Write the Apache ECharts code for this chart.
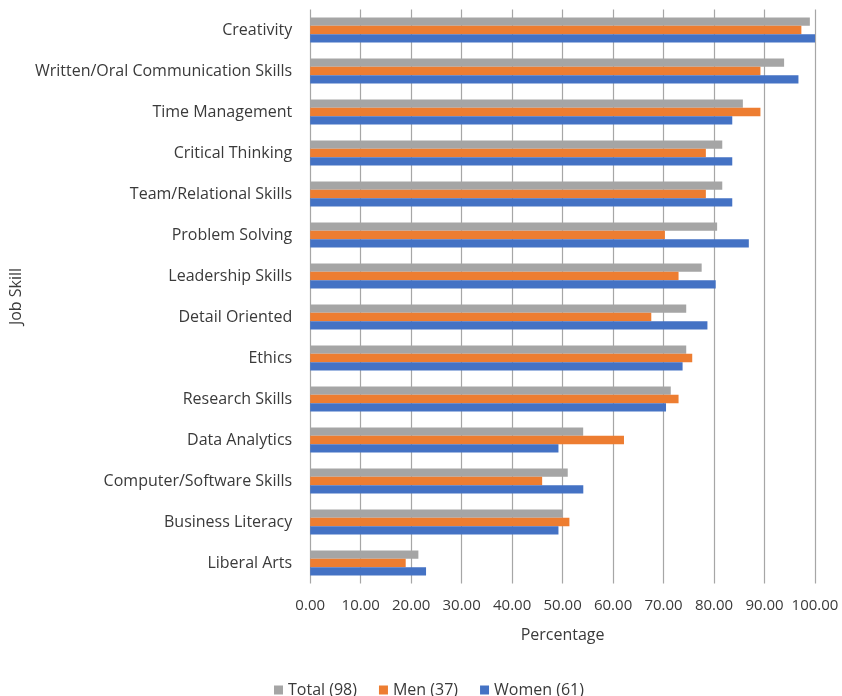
<!DOCTYPE html>
<html>
<head>
<meta charset="utf-8">
<script src="https://cdn.jsdelivr.net/npm/echarts@6/dist/echarts.min.js"></script>
<style>
  html, body { margin: 0; padding: 0; background: #ffffff; }
  #chart { width: 842px; height: 696px; }
</style>
</head>
<body>
<div id="chart"></div>
<script>
// Job skills, top to bottom
const skills = [
  'Creativity',
  'Written/Oral Communication Skills',
  'Time Management',
  'Critical Thinking',
  'Team/Relational Skills',
  'Problem Solving',
  'Leadership Skills',
  'Detail Oriented',
  'Ethics',
  'Research Skills',
  'Data Analytics',
  'Computer/Software Skills',
  'Business Literacy',
  'Liberal Arts'
];

// Percentage of respondents per group
const totalPct = [98.98, 93.88, 85.71, 81.63, 81.63, 80.61, 77.55, 74.49, 74.49, 71.43, 54.08, 51.02, 50.00, 21.43];
const menPct   = [97.30, 89.19, 89.19, 78.38, 78.38, 70.27, 72.97, 67.57, 75.68, 72.97, 62.16, 45.95, 51.35, 18.92];
const womenPct = [100.00, 96.72, 83.61, 83.61, 83.61, 86.89, 80.33, 78.69, 73.77, 70.49, 49.18, 54.10, 49.18, 22.95];

const seriesNames = ['Total (98)', 'Men (37)', 'Women (61)'];
const seriesColors = ['#a5a5a5', '#ed7d31', '#4472c4'];

const xTicks = { min: 0, max: 100, interval: 10 };

const chart = echarts.init(document.getElementById('chart'));
const font = 'Open Sans, Lato, sans-serif';
const textColor = '#3a3a3a';

chart.setOption({
  animation: false,
  textStyle: { fontFamily: font },
  grid: { left: 309, top: 9.5, width: 506, height: 574, containLabel: false },
  legend: {
    top: 677,
    left: 269,
    itemWidth: 9,
    itemHeight: 9,
    itemGap: 22,
    icon: 'rect',
    textStyle: { fontSize: 16, color: textColor, fontFamily: font },
    data: seriesNames
  },
  xAxis: {
    type: 'value',
    min: xTicks.min,
    max: xTicks.max,
    interval: xTicks.interval,
    name: 'Percentage',
    nameLocation: 'middle',
    nameGap: 44,
    nameTextStyle: { fontSize: 16, color: textColor, fontFamily: font },
    axisLine: { show: false },
    axisTick: { show: false },
    axisLabel: {
      fontSize: 15, color: textColor, margin: 15, fontFamily: font,
      formatter: v => v.toFixed(2)
    },
    splitLine: { show: true, lineStyle: { color: '#a6a6a6', width: 1.2 } }
  },
  yAxis: {
    type: 'category',
    data: skills,
    inverse: true,
    name: 'Job Skill',
    nameLocation: 'middle',
    nameGap: 282,
    nameRotate: 90,
    nameTextStyle: { fontSize: 16, color: textColor, fontFamily: font },
    axisLine: { show: false },
    axisTick: { show: false },
    axisLabel: { fontSize: 16, color: textColor, margin: 18, fontFamily: font }
  },
  series: [totalPct, menPct, womenPct].map((vals, i) => ({
    name: seriesNames[i],
    type: 'bar',
    data: vals,
    barWidth: 8.3,
    barGap: '0%',
    itemStyle: { color: seriesColors[i] }
  }))
});
</script>
</body>
</html>
